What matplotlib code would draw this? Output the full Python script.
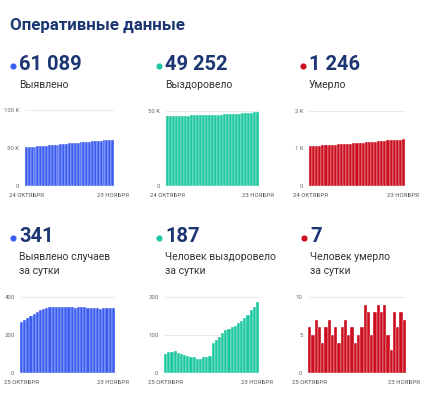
import matplotlib
matplotlib.use("Agg")
import matplotlib.pyplot as plt
from matplotlib.lines import Line2D

plt.rcParams['font.family'] = ['Roboto', 'DejaVu Sans']

# cumulative, 24 Oct .. 23 Nov
identified = [51084, 51355, 51635, 51925, 52225, 52535, 52855, 53185, 53522, 53864,
              54209, 54555, 54902, 55249, 55595, 55940, 56287, 56633, 56977, 57323,
              57670, 58015, 58358, 58700, 59044, 59385, 59723, 60063, 60406, 60748, 61089]
recovered = [46613, 46664, 46718, 46774, 46831, 46884, 46934, 46982, 47028, 47071,
             47112, 47150, 47188, 47230, 47273, 47318, 47396, 47483, 47579, 47685,
             47797, 47914, 48034, 48159, 48291, 48429, 48573, 48726, 48891, 49066, 49252]
deaths = [1058, 1064, 1069, 1076, 1082, 1086, 1092, 1099, 1104, 1110,
          1114, 1120, 1127, 1132, 1138, 1142, 1147, 1153, 1162, 1170,
          1175, 1183, 1192, 1200, 1209, 1214, 1217, 1225, 1231, 1239, 1246]

# daily, 25 Oct .. 23 Nov
daily_identified = [271, 280, 290, 300, 310, 320, 330, 337, 342, 345,
                    346, 347, 347, 346, 345, 347, 346, 344, 346, 347,
                    345, 343, 342, 344, 341, 338, 340, 343, 342, 341]
daily_recovered = [51, 54, 56, 57, 53, 50, 48, 46, 43, 41,
                   38, 38, 42, 43, 45, 78, 87, 96, 106, 112,
                   117, 120, 125, 132, 138, 144, 153, 165, 175, 186]
daily_deaths = [6, 5, 7, 6, 4, 6, 7, 5, 6, 4,
                6, 7, 5, 6, 4, 5, 6, 9, 8, 5,
                8, 9, 8, 9, 5, 3, 8, 6, 8, 7]

top_labels = ['24 ОКТЯБРЯ', '23 НОЯБРЯ']
bottom_labels = ['25 ОКТЯБРЯ', '23 НОЯБРЯ']

BLUE = '#3b5cf0'
TEAL = '#1cc8a0'
RED = '#cc0e1e'
NAVY = '#1b3672'

W, H = 430, 397
fig = plt.figure(figsize=(W / 100, H / 100), dpi=100)


def fx(x):
    return x / W


def fy(y):
    return 1 - y / H


def panel(left, right, top, bottom, values, color, yticks, yticklabels, xlabels):
    ax = fig.add_axes([fx(left), fy(bottom), fx(right) - fx(left), fy(top) - fy(bottom)])
    n = len(values)
    ax.bar(range(n), values, width=1.0, color=color, edgecolor='white', linewidth=0.25)
    ax.set_xlim(-0.5, n - 0.5)
    ax.set_ylim(0, yticks[-1])
    ax.set_yticks(yticks)
    ax.set_yticklabels(yticklabels, fontsize=4.3, color='#666666')
    ax.set_xticks([0, n - 1])
    ax.set_xticklabels(xlabels, fontsize=4.3, color='#555555')
    ax.tick_params(length=0, pad=4)
    ax.tick_params(axis='x', pad=5)
    for s in ax.spines.values():
        s.set_visible(False)
    ax.grid(axis='y', color='#e6e6e6', linewidth=0.6)
    ax.set_axisbelow(True)
    return ax


def header(x, y, number, color, lines):
    fig.lines.append(Line2D([fx(x - 6)], [fy(y + 1.5)], marker='o', markersize=3.4,
                            color=color, transform=fig.transFigure))
    fig.text(fx(x), fy(y), number, fontsize=14.5, fontweight='bold', color=NAVY, va='center')
    for i, t in enumerate(lines):
        fig.text(fx(x), fy(y + 21 + 14 * i), t, fontsize=7.5, color='#333333', va='center')


fig.text(fx(10), fy(25), 'Оперативные данные', fontsize=12.2, fontweight='bold',
         color=NAVY, va='center')

header(19, 64.5, '61 089', BLUE, ['Выявлено'])
header(165, 64.5, '49 252', TEAL, ['Выздоровело'])
header(309, 64.5, '1 246', RED, ['Умерло'])

header(19, 236.5, '341', BLUE, ['Выявлено случаев', 'за сутки'])
header(165, 236.5, '187', TEAL, ['Человек выздоровело', 'за сутки'])
header(310, 236.5, '7', RED, ['Человек умерло', 'за сутки'])

panel(25, 114, 110, 186, identified, BLUE, [0, 50000, 100000], ['0', '50 K', '100 K'], top_labels)
panel(166, 259, 111, 186, recovered, TEAL, [0, 50000], ['0', '50 K'], top_labels)
panel(309, 405, 111, 186, deaths, RED, [0, 1000, 2000], ['0', '1 K', '2 K'], top_labels)

panel(20, 115, 297, 373, daily_identified, BLUE, [0, 200, 400], ['0', '200', '400'], bottom_labels)
panel(164, 259, 297, 373, daily_recovered, TEAL, [0, 100, 200], ['0', '100', '200'], bottom_labels)
panel(308, 406, 297, 373, daily_deaths, RED, [0, 5, 10], ['0', '5', '10'], bottom_labels)

fig.savefig('out.png', dpi=100, facecolor='white')
